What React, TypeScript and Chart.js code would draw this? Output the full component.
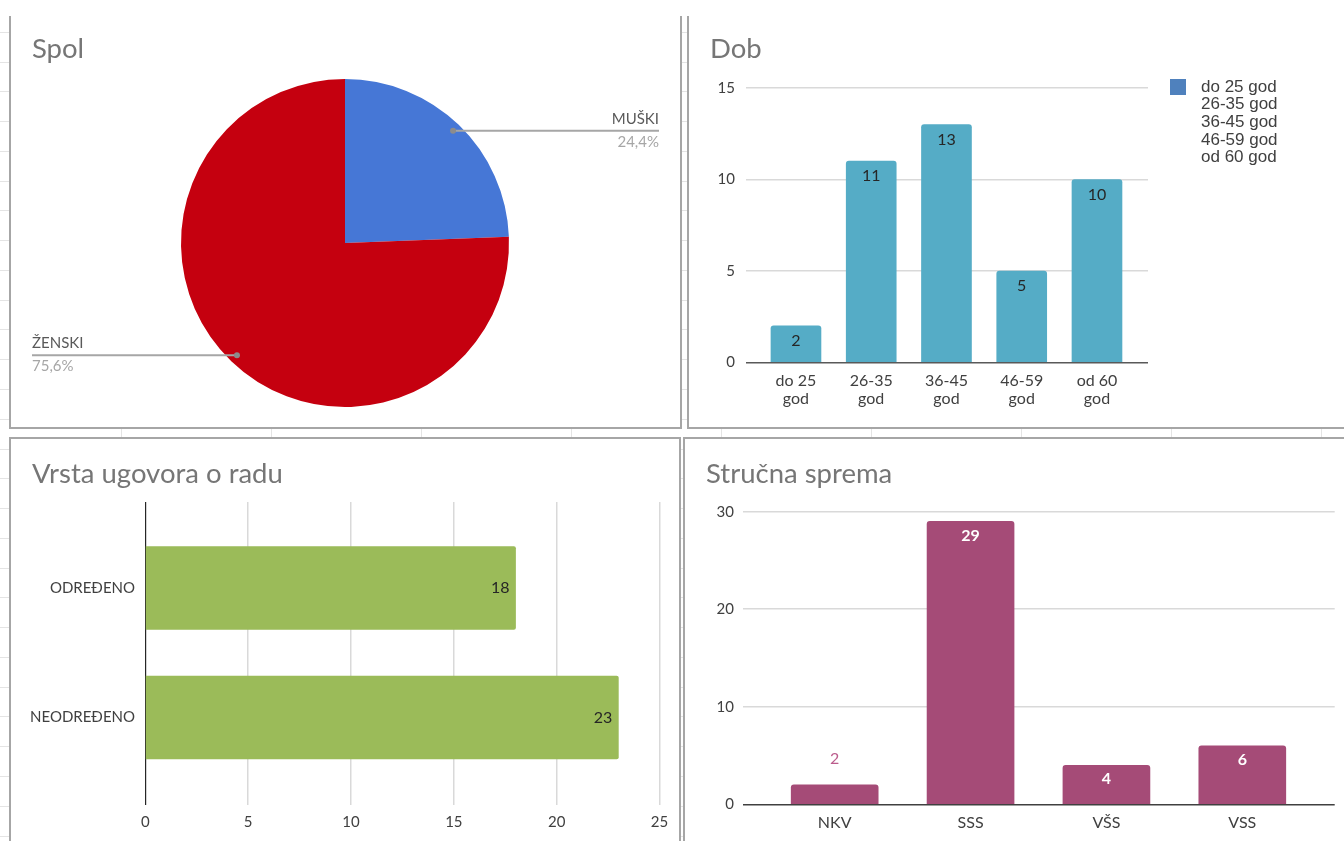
import React, { useEffect, useRef } from "react";
import { Chart, registerables } from "chart.js";

Chart.register(...registerables);

// ---------------- DATA ----------------
const genderLabels = ["MUŠKI", "ŽENSKI"];
const genderValues = [10, 31];
const genderColors = ["#4677D6", "#C5000F"];

const ageLabels = ["do 25 god", "26-35 god", "36-45 god", "46-59 god", "od 60 god"];
const ageTickLabels = [
  ["do 25", "god"],
  ["26-35", "god"],
  ["36-45", "god"],
  ["46-59", "god"],
  ["od 60", "god"],
];
const ageValues = [2, 11, 13, 5, 10];

const contractLabels = ["ODREĐENO", "NEODREĐENO"];
const contractValues = [18, 23];

const eduLabels = ["NKV", "SSS", "VŠS", "VSS"];
const eduValues = [2, 29, 4, 6];

// ---------------- STYLE ----------------
const FONT = "Lato, 'Open Sans', sans-serif";
const TICK_COLOR = "#404040";
const GRID_COLOR = "#d9d9d9";
const TICK_FONT = { family: FONT, size: 15 };
const CAT_FONT = { family: FONT, size: 16, lineHeight: 1.15 };

const fmtPct = (v: number, total: number) =>
  ((v / total) * 100).toFixed(1).replace(".", ",") + "%";

// ---------------- PLUGINS ----------------
const pieLeaderPlugin = {
  id: "pieLeader",
  afterDraw(chart: any) {
    const ctx = chart.ctx;
    const meta = chart.getDatasetMeta(0);
    const data = chart.data.datasets[0].data as number[];
    const total = data.reduce((a, b) => a + b, 0);
    meta.data.forEach((arc: any, i: number) => {
      const p = arc.getProps(["x", "y", "startAngle", "endAngle", "outerRadius"], true);
      const mid = (p.startAngle + p.endAngle) / 2;
      const px = p.x + Math.cos(mid) * p.outerRadius * 0.95;
      const py = p.y + Math.sin(mid) * p.outerRadius * 0.95;
      const right = Math.cos(mid) >= 0;
      const endX = right ? chart.width - 21 : 21;
      ctx.save();
      ctx.strokeStyle = "#a6a6a6";
      ctx.lineWidth = 2;
      ctx.beginPath();
      ctx.moveTo(px, py);
      ctx.lineTo(endX, py);
      ctx.stroke();
      ctx.fillStyle = "#8c8c8c";
      ctx.beginPath();
      ctx.arc(px, py, 3, 0, Math.PI * 2);
      ctx.fill();
      ctx.textAlign = right ? "right" : "left";
      ctx.textBaseline = "middle";
      ctx.font = `15px ${FONT}`;
      ctx.fillStyle = "#595959";
      ctx.fillText(chart.data.labels[i], endX, py - 12);
      ctx.fillStyle = "#a6a6a6";
      ctx.fillText(fmtPct(data[i], total), endX, py + 11);
      ctx.restore();
    });
  },
};

const dobLabelsPlugin = {
  id: "dobLabels",
  afterDatasetsDraw(chart: any) {
    const ctx = chart.ctx;
    const meta = chart.getDatasetMeta(0);
    ctx.save();
    ctx.font = `16px ${FONT}`;
    ctx.fillStyle = "#262626";
    ctx.textAlign = "center";
    ctx.textBaseline = "middle";
    meta.data.forEach((bar: any, i: number) => {
      ctx.fillText(String(ageValues[i]), bar.x, bar.y + 15);
    });
    ctx.restore();
  },
};

const dobLegendPlugin = {
  id: "dobLegend",
  afterDraw(chart: any) {
    const ctx = chart.ctx;
    const a = chart.chartArea;
    const sx = a.right + 22;
    const sy = a.top - 9;
    ctx.save();
    ctx.fillStyle = "#4F81BD";
    ctx.fillRect(sx, sy, 16, 16);
    ctx.font = "17px 'Liberation Sans', Arial, sans-serif";
    ctx.fillStyle = "#404040";
    ctx.textAlign = "left";
    ctx.textBaseline = "middle";
    ageLabels.forEach((t, i) => {
      ctx.fillText(t, sx + 31, sy + 8 + i * 17.7);
    });
    ctx.restore();
  },
};

const contractLabelsPlugin = {
  id: "contractLabels",
  afterDatasetsDraw(chart: any) {
    const ctx = chart.ctx;
    const meta = chart.getDatasetMeta(0);
    ctx.save();
    ctx.font = `16px ${FONT}`;
    ctx.fillStyle = "#262626";
    ctx.textAlign = "right";
    ctx.textBaseline = "middle";
    meta.data.forEach((bar: any, i: number) => {
      ctx.fillText(String(contractValues[i]), bar.x - 6, bar.y);
    });
    ctx.restore();
  },
};

const eduLabelsPlugin = {
  id: "eduLabels",
  afterDatasetsDraw(chart: any) {
    const ctx = chart.ctx;
    const meta = chart.getDatasetMeta(0);
    ctx.save();
    ctx.textAlign = "center";
    ctx.textBaseline = "middle";
    meta.data.forEach((bar: any, i: number) => {
      const h = bar.base - bar.y;
      if (h >= 30) {
        ctx.font = `bold 16px ${FONT}`;
        ctx.fillStyle = "#ffffff";
        ctx.fillText(String(eduValues[i]), bar.x, bar.y + 14);
      } else {
        ctx.font = `16px ${FONT}`;
        ctx.fillStyle = "#BB5C8C";
        ctx.fillText(String(eduValues[i]), bar.x, bar.y - 26);
      }
    });
    ctx.restore();
  },
};

// ---------------- CHART CONFIGS ----------------
function pieConfig(): any {
  return {
    type: "pie",
    data: {
      labels: genderLabels,
      datasets: [{ data: genderValues, backgroundColor: genderColors, borderWidth: 0 }],
    },
    options: {
      animation: false,
      responsive: false,
      layout: { padding: { top: 63, bottom: 20, left: 0, right: 1 } },
      plugins: { legend: { display: false }, tooltip: { enabled: false } },
    },
    plugins: [pieLeaderPlugin],
  };
}

function dobConfig(): any {
  return {
    type: "bar",
    data: {
      datasets: [
        {
          label: "Dob",
          data: ageValues.map((v, i) => ({ x: i, y: v })),
          backgroundColor: "#55ACC6",
          borderRadius: 3,
          borderSkipped: "start",
          barThickness: 50,
        },
      ],
    },
    options: {
      animation: false,
      responsive: false,
      layout: { padding: { top: 72, right: 196, bottom: 14.5, left: 0 } },
      scales: {
        x: {
          type: "linear",
          min: -0.664,
          max: 4.678,
          offset: false,
          afterBuildTicks: (a: any) => {
            a.ticks = ageTickLabels.map((_, i) => ({ value: i }));
          },
          afterFit: (a: any) => {
            a.height = 50;
          },
          ticks: {
            callback: (v: any) => ageTickLabels[v],
            padding: 9,
            font: CAT_FONT,
            color: TICK_COLOR,
            autoSkip: false,
            maxRotation: 0,
          },
          grid: { display: false, offset: false, drawTicks: false },
          border: { display: false },
        },
        y: {
          min: 0,
          max: 15,
          afterFit: (a: any) => {
            a.width = 56;
          },
          ticks: { stepSize: 5, padding: 11, font: TICK_FONT, color: TICK_COLOR },
          grid: {
            color: (c: any) => (c.tick && c.tick.value === 0 ? "#595959" : GRID_COLOR),
            lineWidth: 1.5,
            drawTicks: false,
          },
          border: { display: false },
        },
      },
      plugins: { legend: { display: false }, tooltip: { enabled: false } },
    },
    plugins: [dobLabelsPlugin, dobLegendPlugin],
  };
}

function contractConfig(): any {
  return {
    type: "bar",
    data: {
      datasets: [
        {
          label: "Vrsta ugovora o radu",
          data: contractValues.map((v, i) => ({ x: v, y: i })),
          backgroundColor: "#9BBB59",
          borderRadius: 2,
          borderSkipped: "start",
          barThickness: 83,
        },
      ],
    },
    options: {
      animation: false,
      responsive: false,
      indexAxis: "y",
      layout: { padding: { top: 63, right: 19.5, bottom: 6, left: 0 } },
      scales: {
        x: {
          type: "linear",
          min: 0,
          max: 25,
          position: "bottom",
          afterFit: (a: any) => {
            a.height = 30;
          },
          ticks: { stepSize: 5, padding: 8, font: TICK_FONT, color: TICK_COLOR },
          grid: {
            color: (c: any) => (c.tick && c.tick.value === 0 ? "#262626" : GRID_COLOR),
            lineWidth: (c: any) => (c.tick && c.tick.value === 0 ? 1.2 : 1.5),
            drawTicks: false,
          },
          border: { display: false },
        },
        y: {
          type: "linear",
          min: -0.664,
          max: 1.676,
          reverse: true,
          offset: false,
          afterBuildTicks: (a: any) => {
            a.ticks = contractLabels.map((_, i) => ({ value: i }));
          },
          afterFit: (a: any) => {
            a.width = 134.4;
          },
          ticks: {
            callback: (v: any) => contractLabels[v],
            padding: 10.4,
            font: TICK_FONT,
            color: TICK_COLOR,
            autoSkip: false,
          },
          grid: { display: false, offset: false, drawTicks: false },
          border: { display: false },
        },
      },
      plugins: { legend: { display: false }, tooltip: { enabled: false } },
    },
    plugins: [contractLabelsPlugin],
  };
}

function eduConfig(): any {
  return {
    type: "bar",
    data: {
      datasets: [
        {
          label: "Stručna sprema",
          data: eduValues.map((v, i) => ({ x: i, y: v })),
          backgroundColor: "#A54B77",
          borderRadius: 3,
          borderSkipped: "start",
          barThickness: 87,
        },
      ],
    },
    options: {
      animation: false,
      responsive: false,
      layout: { padding: { top: 72.7, right: 9.3, bottom: 6.7, left: 0 } },
      scales: {
        x: {
          type: "linear",
          min: -0.677,
          max: 3.68,
          offset: false,
          afterBuildTicks: (a: any) => {
            a.ticks = eduLabels.map((_, i) => ({ value: i }));
          },
          afterFit: (a: any) => {
            a.height = 30;
          },
          ticks: {
            callback: (v: any) => eduLabels[v],
            padding: 9.5,
            font: CAT_FONT,
            color: TICK_COLOR,
            autoSkip: false,
            maxRotation: 0,
          },
          grid: { display: false, offset: false, drawTicks: false },
          border: { display: false },
        },
        y: {
          min: 0,
          max: 30,
          afterFit: (a: any) => {
            a.width = 57.7;
          },
          ticks: { stepSize: 10, padding: 8.7, font: TICK_FONT, color: TICK_COLOR },
          grid: {
            color: (c: any) => (c.tick && c.tick.value === 0 ? "#404040" : GRID_COLOR),
            lineWidth: 1.5,
            drawTicks: false,
          },
          border: { display: false },
        },
      },
      plugins: { legend: { display: false }, tooltip: { enabled: false } },
    },
    plugins: [eduLabelsPlugin],
  };
}

// ---------------- COMPONENTS ----------------
function ChartCanvas({
  left,
  top,
  width,
  height,
  make,
}: {
  left: number;
  top: number;
  width: number;
  height: number;
  make: () => any;
}) {
  const ref = useRef<HTMLCanvasElement>(null);
  useEffect(() => {
    if (!ref.current) return;
    const chart = new Chart(ref.current, make());
    return () => chart.destroy();
  }, []);
  return (
    <canvas
      ref={ref}
      width={width}
      height={height}
      style={{ position: "absolute", left, top, width, height }}
    />
  );
}

const BORDER = "2px solid #a6a6a6";

function Panel({ style }: { style: React.CSSProperties }) {
  return (
    <div
      style={{
        position: "absolute",
        boxSizing: "border-box",
        background: "#ffffff",
        ...style,
      }}
    />
  );
}

function Title({ text, left, top }: { text: string; left: number; top: number }) {
  return (
    <div
      style={{
        position: "absolute",
        left,
        top,
        fontFamily: FONT,
        fontSize: 27.5,
        lineHeight: "30px",
        color: "#767676",
        whiteSpace: "nowrap",
      }}
    >
      {text}
    </div>
  );
}

export default function App() {
  return (
    <div
      style={{
        position: "fixed",
        left: 0,
        top: 0,
        width: 1344,
        height: 841,
        overflow: "hidden",
        backgroundColor: "#ffffff",
        backgroundImage:
          "repeating-linear-gradient(to right, transparent 0px, transparent 121px, #e4e4e4 121px, #e4e4e4 122px, transparent 122px, transparent 150px)," +
          "repeating-linear-gradient(to bottom, transparent 0px, transparent 2px, #e4e4e4 2px, #e4e4e4 3px, transparent 3px, transparent 29.77px)",
      }}
    >
      <div style={{ position: "absolute", left: 0, top: 0, width: 1344, height: 16, background: "#fff" }} />
      <Panel style={{ left: 9, top: 16, width: 673, height: 413, borderLeft: BORDER, borderRight: BORDER, borderBottom: BORDER }} />
      <Panel style={{ left: 687, top: 16, width: 700, height: 413, borderLeft: BORDER, borderBottom: BORDER }} />
      <Panel style={{ left: 9, top: 437, width: 672, height: 500, borderLeft: BORDER, borderRight: BORDER, borderTop: BORDER }} />
      <Panel style={{ left: 683, top: 437, width: 700, height: 500, borderLeft: BORDER, borderTop: BORDER }} />

      <ChartCanvas left={11} top={16} width={669} height={411} make={pieConfig} />
      <ChartCanvas left={690} top={16} width={654} height={411} make={dobConfig} />
      <ChartCanvas left={11} top={439} width={668} height={402} make={contractConfig} />
      <ChartCanvas left={685} top={439} width={659} height={402} make={eduConfig} />

      <Title text="Spol" left={32} top={33} />
      <Title text="Dob" left={710} top={33} />
      <Title text="Vrsta ugovora o radu" left={32} top={458} />
      <Title text="Stručna sprema" left={706} top={458} />
    </div>
  );
}
